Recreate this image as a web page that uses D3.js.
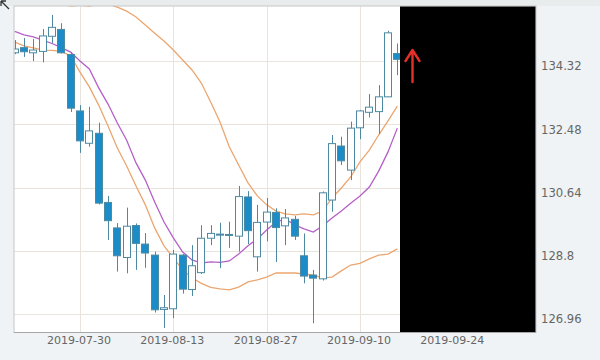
<!DOCTYPE html>
<html><head><meta charset="utf-8">
<script src="https://cdn.jsdelivr.net/npm/d3@7"></script>
<style>html,body{margin:0;padding:0;background:#eff3f5;}svg{display:block;}</style>
</head><body><svg id="c" width="600" height="360"></svg>
<script>
const dates = ["2019-07-19","2019-07-22","2019-07-23","2019-07-24","2019-07-25","2019-07-26","2019-07-29","2019-07-30","2019-07-31",
"2019-08-01","2019-08-02","2019-08-05","2019-08-06","2019-08-07","2019-08-08","2019-08-09","2019-08-12","2019-08-13","2019-08-14","2019-08-15","2019-08-16",
"2019-08-19","2019-08-20","2019-08-21","2019-08-22","2019-08-23","2019-08-26","2019-08-27","2019-08-28","2019-08-29","2019-08-30",
"2019-09-02","2019-09-03","2019-09-04","2019-09-05","2019-09-06","2019-09-09","2019-09-10","2019-09-11","2019-09-12","2019-09-13",
"2019-09-16","2019-09-17","2019-09-18","2019-09-19","2019-09-20","2019-09-23","2019-09-24","2019-09-25","2019-09-26","2019-09-27","2019-09-30",
"2019-10-01","2019-10-02","2019-10-03","2019-10-04"];
const xTickLabels = ["2019-07-30","2019-08-13","2019-08-27","2019-09-10","2019-09-24"];
const yTickValues = [126.96,128.8,130.64,132.48,134.32];

const open  = [134.56,134.71,134.56,134.60,135.04,135.24,134.51,132.87,131.93,132.22,130.21,129.47,128.61,129.54,129.00,128.68,127.10,127.12,128.68,127.68,128.17,129.17,129.29,129.28,129.23,130.37,128.63,129.64,129.92,129.53,129.72,128.66,128.10,127.99,130.28,131.85,131.15,132.38,132.83,132.85,133.28,134.54];
const close = [134.67,134.59,134.64,135.05,135.30,134.56,132.95,132.00,132.29,130.19,129.68,128.66,129.52,129.02,128.74,127.09,127.15,128.71,127.69,128.37,129.17,129.31,129.26,129.25,130.38,129.39,129.63,129.93,129.48,129.76,129.23,128.07,128.01,130.49,131.92,131.42,132.37,132.87,132.98,133.28,135.14,134.37];
const high  = [134.93,134.99,134.96,135.25,135.66,135.42,134.58,133.04,132.99,132.53,130.40,129.61,130.06,129.60,129.32,128.78,127.52,128.83,128.71,128.97,129.55,129.55,129.62,129.65,130.69,130.54,130.14,130.34,130.04,130.02,129.82,129.31,128.25,130.53,132.17,132.12,132.56,132.90,133.36,133.62,135.20,134.83];
const low   = [134.52,134.44,134.32,134.28,134.84,134.54,132.84,131.65,131.83,130.15,129.12,128.20,128.15,128.25,128.31,127.01,126.56,126.85,127.56,127.49,128.13,128.97,128.30,128.89,128.78,129.00,128.20,129.08,128.48,128.97,129.12,127.86,126.70,127.94,129.94,131.30,130.86,132.05,132.68,132.20,133.27,133.91];

const lineUpper  = [136.38,136.33,136.24,136.15,136.06,135.99,135.92,135.94,135.92,135.97,135.97,135.89,135.77,135.60,135.37,135.13,134.90,134.64,134.35,134.06,133.68,133.13,132.55,131.82,131.30,130.78,130.40,130.14,129.96,129.88,129.85,129.88,129.85,129.96,130.34,130.63,130.95,131.39,131.73,132.17,132.58,133.01];
const linePurple = [135.18,135.08,135.02,134.93,134.83,134.71,134.58,134.32,134.09,133.54,133.07,132.52,132.02,131.36,130.86,130.22,129.64,129.18,128.77,128.54,128.45,128.48,128.47,128.51,128.71,128.95,129.15,129.41,129.64,129.73,129.56,129.44,129.35,129.53,129.76,129.96,130.19,130.40,130.66,131.12,131.68,132.37];
const lineLower  = [134.87,134.76,134.70,134.64,134.63,134.60,134.47,134.00,133.57,133.04,132.43,131.79,131.27,130.69,130.14,129.47,128.95,128.60,128.25,128.02,127.86,127.74,127.70,127.67,127.75,127.90,127.96,128.04,128.16,128.16,128.16,128.13,128.10,128.02,128.04,128.22,128.39,128.44,128.57,128.68,128.71,128.86];

const P = {l:14, r:536, t:6, b:332.5};
const svg = d3.select("#c");
const x = d3.scalePoint().domain(dates).range([14.67, 528]);
const y = d3.scaleLinear().domain([126.43, 135.92]).range([P.b, P.t]);

svg.append("rect").attr("width",600).attr("height",360).attr("fill","#eff3f5");
svg.append("rect").attr("x",0).attr("y",0).attr("width",600).attr("height",P.t).attr("fill","#e8eced");
svg.append("rect").attr("x",P.l).attr("y",P.t).attr("width",P.r-P.l).attr("height",P.b-P.t).attr("fill","#fff");

svg.append("defs").append("clipPath").attr("id","clip").append("rect")
  .attr("x",P.l).attr("y",P.t).attr("width",P.r-P.l).attr("height",P.b-P.t);

const grid = svg.append("g").attr("stroke","#e8e3dc").attr("stroke-width",1).attr("shape-rendering","crispEdges");
grid.selectAll(".v").data(xTickLabels).join("line")
  .attr("x1",d=>Math.round(x(d))+0.5).attr("x2",d=>Math.round(x(d))+0.5).attr("y1",P.t).attr("y2",P.b);
grid.selectAll(".h").data(yTickValues).join("line")
  .attr("x1",P.l).attr("x2",P.r).attr("y1",d=>Math.round(y(d))+0.5).attr("y2",d=>Math.round(y(d))+0.5);

const plot = svg.append("g").attr("clip-path","url(#clip)");
const idx = d3.range(open.length);
const mk = arr => d3.line().x(i=>x(dates[i])).y(i=>y(arr[i])).curve(d3.curveLinear);
[[lineUpper,"#eba670"],[lineLower,"#eba670"],[linePurple,"#b560c9"]].forEach(([arr,col])=>{
  plot.append("path").attr("d",mk(arr)(idx)).attr("fill","none").attr("stroke",col).attr("stroke-width",1.3);
});

const bw = 7;
const cg = plot.append("g");
const c = cg.selectAll("g").data(idx).join("g");
c.append("line")
  .attr("x1",i=>Math.round(x(dates[i]))+0.5).attr("x2",i=>Math.round(x(dates[i]))+0.5)
  .attr("y1",i=>y(high[i])).attr("y2",i=>y(low[i]))
  .attr("stroke","#4d8aa2").attr("stroke-width",1);
c.append("rect")
  .attr("x",i=>Math.round(x(dates[i]))-bw/2)
  .attr("y",i=>y(Math.max(open[i],close[i])))
  .attr("width",bw)
  .attr("height",i=>Math.max(1,Math.abs(y(open[i])-y(close[i]))))
  .attr("fill",i=>close[i]>=open[i]?"#ffffff":"#1b8cc8")
  .attr("stroke","#4d8aa2").attr("stroke-width",1);

// frame
svg.append("rect").attr("x",P.l).attr("y",P.t).attr("width",P.r-P.l).attr("height",P.b-P.t)
  .attr("fill","none").attr("stroke","#c6c6c6").attr("stroke-width",1);
svg.append("line").attr("x1",P.l).attr("x2",P.r).attr("y1",P.b).attr("y2",P.b).attr("stroke","#a6a6a6");

// axes
const xa = svg.append("g").attr("transform",`translate(-1.5,${P.b})`)
  .call(d3.axisBottom(x).tickValues(xTickLabels).tickSize(0).tickPadding(4));
xa.select(".domain").remove();
xa.selectAll("text").attr("fill","#666").style("font-family","'DejaVu Sans'").style("font-size","11px");

const ya = svg.append("g").attr("transform",`translate(${P.r},5)`)
  .call(d3.axisRight(y).tickValues(yTickValues).tickSize(0).tickPadding(5).tickFormat(d=>String(d)));
ya.select(".domain").remove();
ya.selectAll("text").attr("fill","#666").style("font-family","'DejaVu Sans'").style("font-size","11.6px");

// redaction box and annotation arrow
svg.append("rect").attr("x",400).attr("y",6.5).attr("width",135.5).attr("height",325.5).attr("fill","#000");
svg.append("path").attr("d","M412.5,82 L412.5,50.5 M405.5,61 L412.5,50 L419.5,61")
  .attr("fill","none").attr("stroke","#e3302b").attr("stroke-width",2.4).attr("stroke-linecap","round").attr("stroke-linejoin","round");

// mouse cursor remnant
svg.append("path").attr("d","M1,1 L9,9 M1,1 L1,6 M1,1 L6,1").attr("fill","none").attr("stroke","#333").attr("stroke-width",1.3);
</script></body></html>
